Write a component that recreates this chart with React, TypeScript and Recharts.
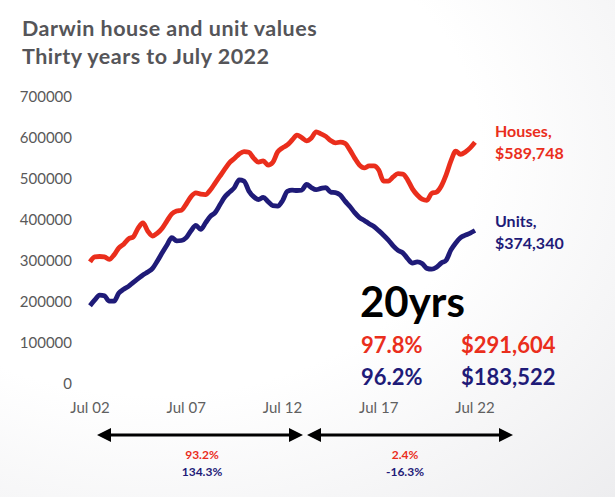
import { LineChart, Line, XAxis, YAxis, ResponsiveContainer } from 'recharts';

// quarterly values, Jul 02 .. Jul 22
const houseValues = [
  298154, 310000, 311000, 310000, 304000, 315000, 332000, 341000, 354000, 359000,
  380000, 393000, 373000, 361000, 368000, 380000, 398000, 415000, 422000, 424000,
  439000, 457000, 466000, 463000, 462000, 473000, 490000, 507000, 524000, 540000,
  550000, 561000, 567000, 565000, 551000, 541000, 544000, 534000, 541000, 566000,
  576034, 583000, 595000, 607000, 601000, 593000, 600000, 615000, 610000, 604000,
  594000, 588000, 590000, 587000, 571000, 551000, 534000, 527000, 532000, 532000,
  522000, 495000, 495000, 505000, 513000, 512000, 498000, 476000, 461000, 451000,
  448000, 465000, 468000, 483000, 510000, 544000, 568000, 560000, 566000, 576000,
  589748,
];

const unitValues = [
  190818, 205000, 217000, 215000, 202000, 202000, 222000, 231000, 238000, 248000,
  257000, 266000, 273000, 282000, 300000, 320000, 339000, 357000, 349000, 350000,
  357000, 374000, 387000, 377000, 393000, 409000, 418000, 437000, 456000, 468000,
  479000, 498000, 495000, 471000, 457000, 450000, 455000, 445000, 435000, 434000,
  447000, 470000, 473000, 472000, 473000, 487000, 479000, 474000, 477000, 479000,
  468000, 467000, 461000, 446000, 433000, 418000, 406000, 399000, 391000, 384000,
  374000, 363000, 351000, 337000, 326000, 320000, 306000, 295000, 298000, 294000,
  282000, 280000, 285000, 295000, 302000, 327000, 344000, 357000, 363000, 368000,
  374340,
];

const tickLabels = ['Jul 02', 'Jul 07', 'Jul 12', 'Jul 17', 'Jul 22'];
const tickQuarters = [0, 20, 40, 60, 80];
const yTicks = [0, 100000, 200000, 300000, 400000, 500000, 600000, 700000];

const chartData = houseValues.map((h, i) => ({ q: i, houses: h, units: unitValues[i] }));

const RED = '#ea2e1c';
const NAVY = '#1f1b78';
const FONT = 'Lato, "Open Sans", sans-serif';

export default function App() {
  return (
    <div
      style={{
        position: 'absolute',
        left: 0,
        top: 0,
        width: 615,
        height: 497,
        fontFamily: FONT,
        background: 'radial-gradient(ellipse at 25% 30%, #ffffff 50%, #ededef 100%)',
      }}
    >
      <div style={{ position: 'absolute', left: 0, top: 0, width: 615, height: 497 }}>
        <ResponsiveContainer width={615} height={497}>
          <LineChart data={chartData} margin={{ top: 97, right: 140, bottom: 83, left: 0 }}>
            <XAxis
              type="number"
              dataKey="q"
              domain={[0, 80]}
              ticks={tickQuarters}
              tickFormatter={(v: number) => tickLabels[tickQuarters.indexOf(v)]}
              axisLine={false}
              tickLine={false}
              tickMargin={12}
              height={30}
              tick={{ fontSize: 15, fill: '#606060', fontFamily: FONT }}
            />
            <YAxis
              domain={[0, 700000]}
              ticks={yTicks}
              tickFormatter={(v: number) => String(v)}
              axisLine={false}
              tickLine={false}
              tickMargin={12}
              width={90}
              tick={{ fontSize: 15, fill: '#595959', fontFamily: FONT }}
            />
            <Line type="monotone" dataKey="houses" stroke={RED} strokeWidth={4.8} dot={false} isAnimationActive={false} />
            <Line type="monotone" dataKey="units" stroke={NAVY} strokeWidth={4.8} dot={false} isAnimationActive={false} />
          </LineChart>
        </ResponsiveContainer>
      </div>
      <svg
        width={615}
        height={497}
        style={{ position: 'absolute', left: 0, top: 0, pointerEvents: 'none' }}
        fontFamily={FONT}
      >
        <text x={22} y={36} fontSize={21.5} letterSpacing={0.5} fontWeight={700} fill="#555559">Darwin house and unit values</text>
        <text x={22} y={64} fontSize={21.5} letterSpacing={0.5} fontWeight={700} fill="#555559">Thirty years to July 2022</text>

        <text x={495} y={137} fontSize={16} fontWeight={700} fill={RED}>Houses,</text>
        <text x={495} y={159} fontSize={16} fontWeight={700} fill={RED}>$589,748</text>
        <text x={495} y={227} fontSize={16} fontWeight={700} fill={NAVY}>Units,</text>
        <text x={495} y={249} fontSize={16} fontWeight={700} fill={NAVY}>$374,340</text>

        <text x={360} y={317} fontSize={42} fontWeight={700} fill="#000">20yrs</text>
        <text x={361} y={353} fontSize={22} fontWeight={700} fill={RED}>97.8%</text>
        <text x={461} y={353} fontSize={22} fontWeight={700} fill={RED}>$291,604</text>
        <text x={361} y={385} fontSize={22} fontWeight={700} fill={NAVY}>96.2%</text>
        <text x={461} y={385} fontSize={22} fontWeight={700} fill={NAVY}>$183,522</text>

        <line x1={105} y1={435} x2={295} y2={435} stroke="#000" strokeWidth={3} />
        <polygon points="97,435 111,428 111,442" fill="#000" />
        <polygon points="303,435 289,428 289,442" fill="#000" />
        <line x1={315} y1={435} x2={505} y2={435} stroke="#000" strokeWidth={3} />
        <polygon points="307,435 321,428 321,442" fill="#000" />
        <polygon points="513,435 499,428 499,442" fill="#000" />

        <text x={202} y={459} fontSize={12} fontWeight={700} fill={RED} textAnchor="middle">93.2%</text>
        <text x={202} y={476} fontSize={12} fontWeight={700} fill={NAVY} textAnchor="middle">134.3%</text>
        <text x={405} y={459} fontSize={12} fontWeight={700} fill={RED} textAnchor="middle">2.4%</text>
        <text x={405} y={476} fontSize={12} fontWeight={700} fill={NAVY} textAnchor="middle">-16.3%</text>
      </svg>
    </div>
  );
}
